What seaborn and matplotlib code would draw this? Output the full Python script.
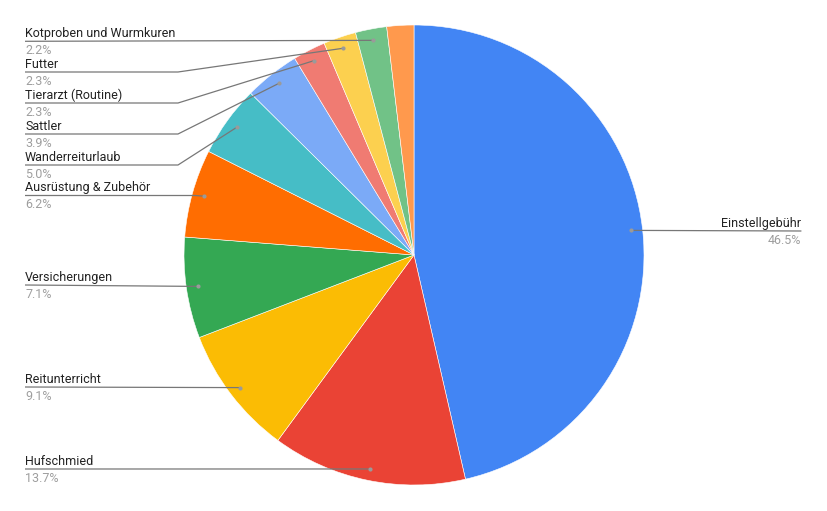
import matplotlib
matplotlib.use("Agg")
import matplotlib.pyplot as plt
import numpy as np
import seaborn as sns

# Data
categories = ["Einstellgebühr", "Hufschmied", "Reitunterricht", "Versicherungen",
              "Ausrüstung & Zubehör", "Wanderreiturlaub", "Sattler", "Tierarzt (Routine)",
              "Futter", "Kotproben und Wurmkuren", ""]
shares = [46.5, 13.7, 9.1, 7.1, 6.2, 5.0, 3.9, 2.3, 2.3, 2.2, 1.9]
colors = ["#4285F4", "#EA4335", "#FBBC04", "#34A853", "#FF6D01", "#46BDC6",
          "#7BAAF7", "#F07B72", "#FCD04F", "#71C287", "#FF994D"]

# label layout in pixels: (side, line y, elbow x or None)
label_layout = {
    "Einstellgebühr": ("right", 231, None),
    "Hufschmied": ("left", 469, None),
    "Reitunterricht": ("left", 387, None),
    "Versicherungen": ("left", 285, None),
    "Ausrüstung & Zubehör": ("left", 195.5, 195),
    "Wanderreiturlaub": ("left", 165, 178),
    "Sattler": ("left", 134, 178),
    "Tierarzt (Routine)": ("left", 103, 178),
    "Futter": ("left", 72, 178),
    "Kotproben und Wurmkuren": ("left", 41.3, None),
}

W, H = 827, 511
CX, CY, R = 414, 255, 230


def to_data(x, y):
    # pixel position -> data coords (pie centre at 0,0, radius 1)
    return (x - CX) / R, (CY - y) / R


sns.set_theme(style="white")
plt.rcParams["font.family"] = ["Roboto", "DejaVu Sans"]

fig = plt.figure(figsize=(W / 100, H / 100), dpi=100)
ax = fig.add_axes([0, 0, 1, 1])

wedges, _ = ax.pie(shares, colors=colors, startangle=90, counterclock=False,
                   radius=1, center=(0, 0),
                   wedgeprops=dict(linewidth=0.4, edgecolor="white"))

ax.set_xlim(-CX / R, (W - CX) / R)
ax.set_ylim(-(H - CY) / R, CY / R)
ax.set_aspect("auto")
ax.axis("off")

line_col = "#777777"
for w, name, val in zip(wedges, categories, shares):
    if name not in label_layout:
        continue
    side, ly, elbow = label_layout[name]
    mid = np.deg2rad((w.theta1 + w.theta2) / 2)
    dx, dy = 0.95 * np.cos(mid), 0.95 * np.sin(mid)
    _, y_line = to_data(0, ly)
    if side == "left":
        x0, _ = to_data(25, ly)
        xs, ys = [x0], [y_line]
        if elbow is not None:
            xe, _ = to_data(elbow, ly)
            xs.append(xe)
            ys.append(y_line)
        xs.append(dx)
        ys.append(dy)
        ax.plot(xs, ys, color=line_col, lw=0.9, solid_capstyle="butt")
        ha, tx = "left", x0
    else:
        x1, _ = to_data(801, ly)
        ax.plot([dx, x1], [dy, y_line], color=line_col, lw=0.9)
        ha, tx = "right", x1
    ax.plot(dx, dy, "o", ms=3, color="#9a9a9a", mec="none")
    _, ty = to_data(0, ly - 4)
    ax.text(tx, ty, name, ha=ha, va="baseline", fontsize=9, color="#222222")
    _, py = to_data(0, ly + 13)
    ax.text(tx, py, f"{val:.1f}%", ha=ha, va="baseline", fontsize=9, color="#9e9e9e")

fig.savefig("out.png", dpi=100)
